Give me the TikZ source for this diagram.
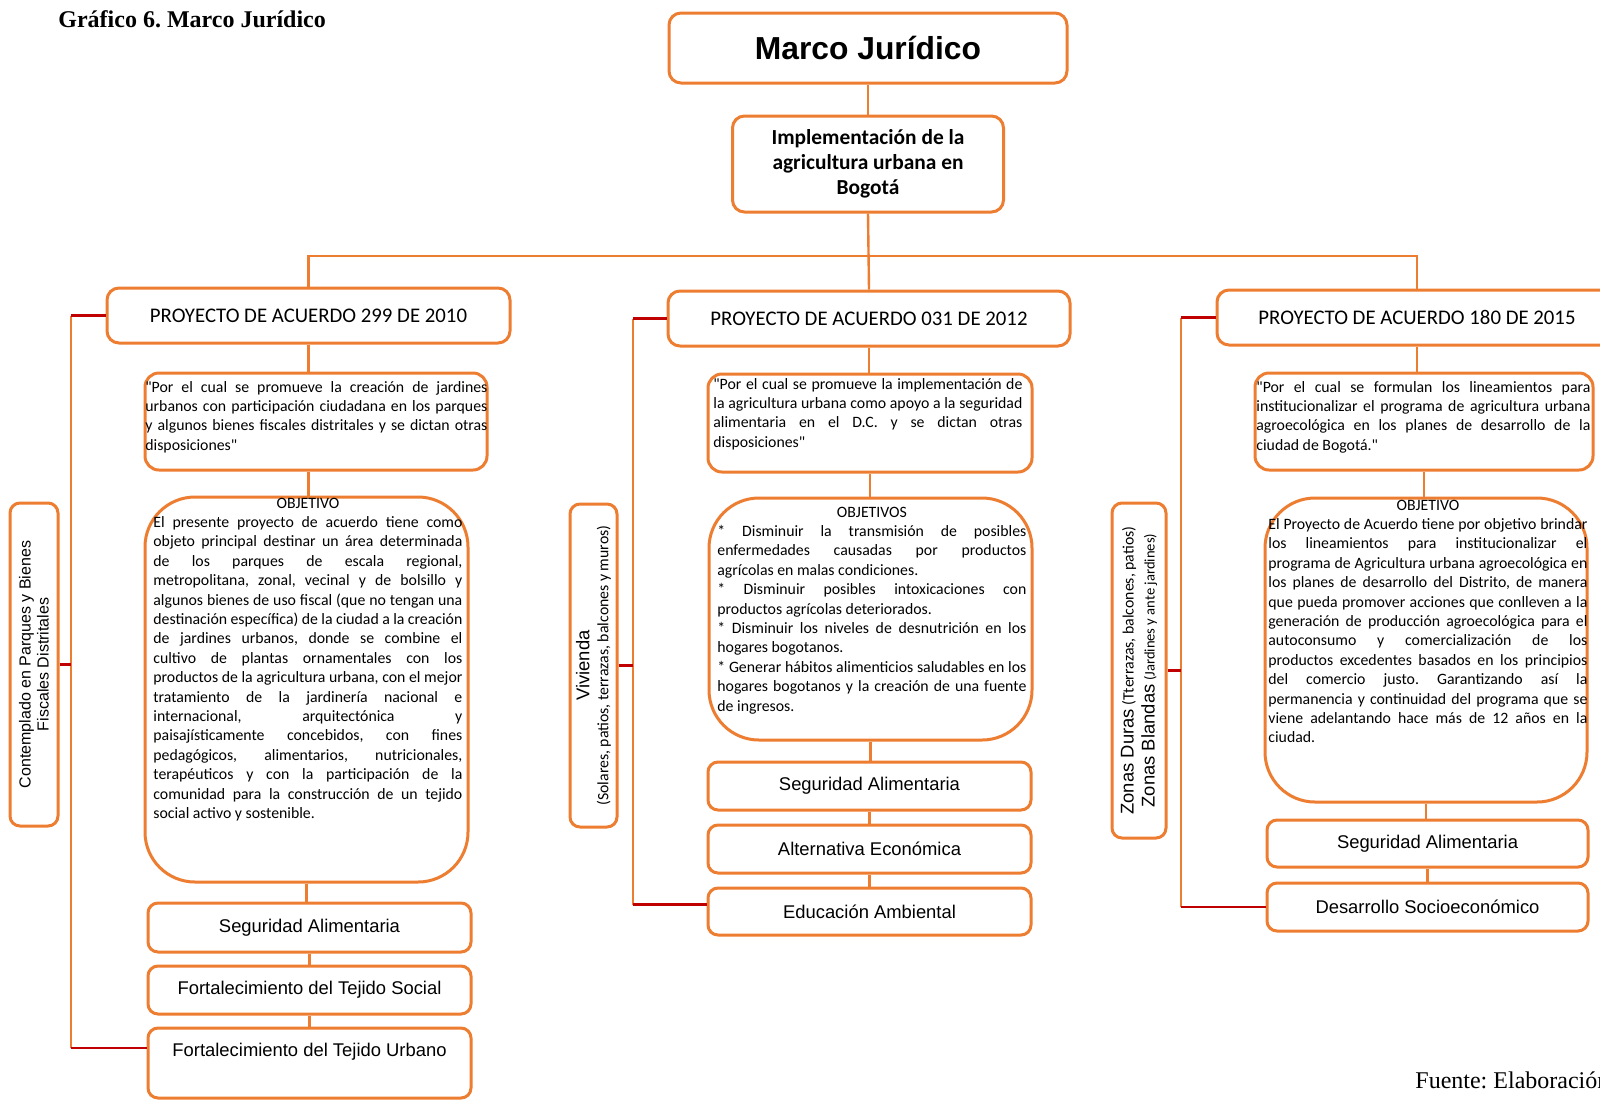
\documentclass[tikz,border=0pt]{standalone}
\usepackage{fontspec}
\setmainfont{Carlito}[Ligatures=TeXOff]
\newfontfamily\arial{Liberation Sans}
\newfontfamily\tnr{Liberation Serif}
\newcommand{\fs}[2]{\fontsize{#1}{#2}\selectfont}
\newcommand{\suelto}{\tolerance=10000\relax\hyphenpenalty=10000\relax}
\frenchspacing

\begin{document}
\begin{tikzpicture}[x=0.5pt, y=-0.5pt,
	caja/.style={draw=naranja, line width=1.5pt, fill=white, rounded corners=5pt, inner sep=0pt, align=center},
	proyecto/.style={caja, rounded corners=6pt, minimum height=27.5pt, font=\fs{10.4pt}{12pt}},
	cita/.style={caja, rounded corners=7pt, minimum height=48.5pt},
	objetivo/.style={caja, rounded corners=25pt},
	pie/.style={caja, minimum width=161.5pt, font=\arial\fs{9.2pt}{11pt}},
	lado/.style={caja, rotate=90},
	texto/.style={anchor=base west, inner sep=0pt, align=justify, font=\fs{7.9pt}{9.7pt}\suelto},
	conector/.style={draw=naranja, line width=1.2pt},
	enlace/.style={draw=rojo, line width=1.3pt}]
		% Legal framework of urban agriculture in Bogota

% Colors
\definecolor{naranja}{RGB}{237,125,49}
\definecolor{rojo}{RGB}{192,0,0}

% Page
\useasboundingbox[fill=white] (0,0) rectangle (1600,1099);

% Bars
\coordinate (barra) at (868,256);
\coordinate (b299) at (71,0);
\coordinate (b031) at (633,0);
\coordinate (b180) at (1181,0);

% Title and source
\node[anchor=base west, inner sep=0pt, font=\tnr\bfseries\fs{12pt}{14pt}] (titulo) at (58,27) {Gráfico 6. Marco Jurídico};
\node[anchor=base west, inner sep=0pt, font=\tnr\fs{12pt}{14pt}] (fuente) at (1415,1088) {Fuente: Elaboración};

% Top
\node[caja, rounded corners=6pt, minimum width=199pt, minimum height=35pt, font=\arial\bfseries\fs{15.9pt}{19pt}] (marco) at (868,48) {Marco Jurídico};
\node[caja, rounded corners=6pt, minimum width=135.5pt, minimum height=48pt, font=\bfseries\fs{10.7pt}{12.5pt}] (impl) at (868,164) {Implementación de la\\agricultura urbana en\\Bogotá};

% Projects
\node[proyecto, minimum width=201.5pt] (p299) at (308.5,315.5) {PROYECTO DE ACUERDO 299 DE 2010};
\node[proyecto, minimum width=201pt] (p031) at (869,318.5) {PROYECTO DE ACUERDO 031 DE 2012};
\node[proyecto, minimum width=200pt] (p180) at (1417,317.5) {PROYECTO DE ACUERDO 180 DE 2015};

% Quotes
\node[cita, minimum width=171pt] (q299) at (316,421.5) {};
\node[cita, minimum width=162pt, minimum height=49pt] (q031) at (870,423) {};
\node[cita, minimum width=169pt] (q180) at (1424,421.5) {};

\node[texto, text width=171pt] (q299t) at (145,392) {"Por el cual se promueve la creación de jardines\linebreak urbanos con participación ciudadana en los parques\linebreak y algunos bienes fiscales distritales y se dictan otras\linebreak disposiciones"};
\node[texto, text width=154.5pt] (q031t) at (713,389) {"Por el cual se promueve la implementación de\linebreak la agricultura urbana como apoyo a la seguridad\linebreak alimentaria en el D.C. y se dictan otras\linebreak disposiciones"};
\node[texto, text width=167pt] (q180t) at (1256,392) {"Por el cual se formulan los lineamientos para\linebreak institucionalizar el programa de agricultura urbana\linebreak agroecológica en los planes de desarrollo de la\linebreak ciudad de Bogotá."};

% Objectives
\node[objetivo, minimum width=161.5pt, minimum height=192.5pt] (o299) at (306.5,689.5) {};
\node[objetivo, minimum width=161.5pt, minimum height=121pt] (o031) at (870.5,619) {};
\node[objetivo, minimum width=161pt, minimum height=152pt] (o180) at (1426,650) {};

\node[texto, text width=154.5pt] (o299t) at (153,508) {{\centering OBJETIVO\par}El presente proyecto de acuerdo tiene como\linebreak objeto principal destinar un área determinada\linebreak de los parques de escala regional,\linebreak metropolitana, zonal, vecinal y de bolsillo y\linebreak algunos bienes de uso fiscal (que no tengan una\linebreak destinación específica) de la ciudad a la creación\linebreak de jardines urbanos, donde se combine el\linebreak cultivo de plantas ornamentales con los\linebreak productos de la agricultura urbana, con el mejor\linebreak tratamiento de la jardinería nacional e\linebreak internacional, arquitectónica y\linebreak paisajísticamente concebidos, con fines\linebreak pedagógicos, alimentarios, nutricionales,\linebreak terapéuticos y con la participación de la\linebreak comunidad para la construcción de un tejido\linebreak social activo y sostenible.};
\node[texto, text width=154.5pt] (o031t) at (717,517) {{\centering OBJETIVOS\par}* Disminuir la transmisión de posibles\linebreak enfermedades causadas por productos\linebreak agrícolas en malas condiciones.\par * Disminuir posibles intoxicaciones con\linebreak productos agrícolas deteriorados.\par * Disminuir los niveles de desnutrición en los\linebreak hogares bogotanos.\par * Generar hábitos alimenticios saludables en los\linebreak hogares bogotanos y la creación de una fuente\linebreak de ingresos.};
\node[texto, text width=159.5pt] (o180t) at (1268,510) {{\centering OBJETIVO\par}El Proyecto de Acuerdo tiene por objetivo brindar\linebreak los lineamientos para institucionalizar el\linebreak programa de Agricultura urbana agroecológica en\linebreak los planes de desarrollo del Distrito, de manera\linebreak que pueda promover acciones que conlleven a la\linebreak generación de producción agroecológica para el\linebreak autoconsumo y comercialización de los\linebreak productos excedentes basados en los principios\linebreak del comercio justo. Garantizando así la\linebreak permanencia y continuidad del programa que se\linebreak viene adelantando hace más de 12 años en la\linebreak ciudad.};

% Results
\node[pie, minimum height=24.5pt] (s299) at (309.5,927.5) {Seguridad Alimentaria};
\node[pie, minimum height=24pt] (ts299) at (309.5,990) {Fortalecimiento del Tejido Social};
\node[pie, minimum height=35pt, text depth=13pt] (tu299) at (309.5,1063) {Fortalecimiento del Tejido Urbano};
\node[pie, minimum height=24pt] (s031) at (869.5,786) {Seguridad Alimentaria};
\node[pie, minimum height=24pt] (a031) at (869.5,849) {Alternativa Económica};
\node[pie, minimum height=23.5pt] (e031) at (869.5,911.5) {Educación Ambiental};
\node[pie, minimum width=160.5pt, minimum height=23.5pt] (s180) at (1427.5,843.5) {Seguridad Alimentaria};
\node[pie, minimum width=160.5pt, minimum height=24pt] (d180) at (1427.5,907) {Desarrollo Socioeconómico};

% Sides
\node[lado, minimum width=161.5pt, minimum height=24pt, font=\arial\fs{8pt}{9pt}] (c299) at (34,664.5) {Contemplado en Parques y Bienes\\Fiscales Distritales};
\node[lado, minimum width=161.5pt, minimum height=23.5pt, font=\fs{7.9pt}{9.5pt}] (v031) at (593.5,665.5) {{\arial\fs{9.2pt}{9.5pt}Vivienda}\\(Solares, patios, terrazas, balcones y muros)};
\node[lado, minimum width=167.5pt, minimum height=27pt, font=\fs{7.9pt}{10.5pt}] (z180) at (1139,670.5) {{\arial\fs{9.2pt}{10.5pt}Zonas Duras} (Tterrazas, balcones, patios)\\{\arial\fs{9.2pt}{10.5pt}Zonas Blandas} {\fs{7.3pt}{10.5pt}(Jardines y ante jardines)}};

\coordinate (ftu) at ([yshift=7.5pt]tu299.west);
\coordinate (fe) at ([yshift=3.5pt]e031.west);

% Connections
\draw[conector] (marco) -- (impl);
\draw[conector] (impl.south) -- (p031.north);
\draw[conector] (p299.north) |- (barra) -| (p180.north);

\draw[conector] (p299.south) -- (p299.south |- q299.north);
\draw[conector] (q299.south -| p299.south) -- (o299.north -| p299.south);
\draw[conector] (o299.south) -- (o299.south |- s299.north);
\draw[conector] (s299.south) -- (s299.south |- ts299.north);
\draw[conector] (ts299.south) -- (ts299.south |- tu299.north);

\draw[conector] (p031.south) -- (p031.south |- q031.north);
\draw[conector] (q031.south) -- (q031.south |- o031.north);
\draw[conector] (o031.south) -- (o031.south |- s031.north);
\draw[conector] (s031.south) -- (s031.south |- a031.north);
\draw[conector] (a031.south) -- (a031.south |- e031.north);

\draw[conector] (p180.south) -- (p180.south |- q180.north);
\draw[conector] (q180.south) -- (q180.south |- o180.north);
\draw[conector] (o180.south) -- (o180.south |- s180.north);
\draw[conector] (s180.south) -- (s180.south |- d180.north);

% Side bars
\draw[conector] (p299.west -| b299) -- (ftu -| b299);
\draw[enlace] (p299.west) -- (p299.west -| b299);
\draw[enlace] (c299.south) -- (c299.south -| b299);
\draw[enlace] (ftu) -- (ftu -| b299);

\draw[conector] (p031.west -| b031) -- (fe -| b031);
\draw[enlace] (p031.west) -- (p031.west -| b031);
\draw[enlace] (v031.south) -- (v031.south -| b031);
\draw[enlace] (fe) -- (fe -| b031);

\draw[conector] (p180.west -| b180) -- (d180.west -| b180);
\draw[enlace] (p180.west) -- (p180.west -| b180);
\draw[enlace] (z180.south) -- (z180.south -| b180);
\draw[enlace] (d180.west) -- (d180.west -| b180);
	\end{tikzpicture}
\end{document}
